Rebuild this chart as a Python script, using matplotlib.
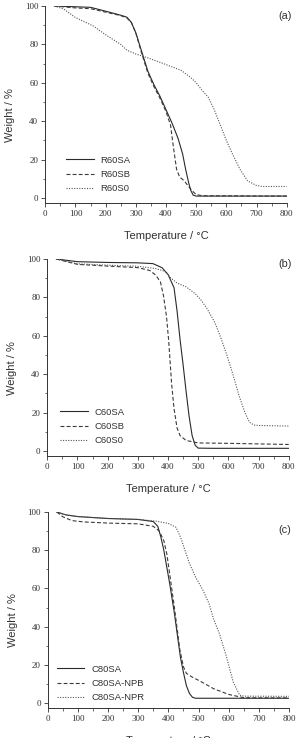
import matplotlib
matplotlib.use("Agg")
import matplotlib.pyplot as plt
from matplotlib.ticker import MultipleLocator

# ---- panel (a) ----
a_sa_t = [30, 100, 150, 200, 250, 270, 285, 300, 320, 340, 360, 380, 400, 420, 440, 455, 465, 475, 482, 490, 500, 550, 800]
a_sa_w = [100, 99.6, 99.3, 97.3, 95.2, 94.2, 91.5, 86, 76, 66, 59, 53, 46, 39, 31, 23, 15, 8, 4, 1.5, 1.0, 1.0, 1.0]
a_sb_t = [30, 100, 150, 200, 250, 270, 285, 300, 320, 340, 360, 380, 400, 415, 425, 435, 445, 460, 475, 485, 500, 520, 800]
a_sb_w = [100, 99.0, 98.6, 96.8, 95.0, 93.8, 91.5, 86, 75, 65, 58, 52, 45, 38, 26, 15, 11, 9, 6, 4, 1.8, 1.2, 1.0]
a_s0_t = [30, 60, 100, 160, 200, 250, 270, 300, 340, 400, 450, 480, 500, 520, 540, 560, 580, 600, 620, 645, 670, 700, 720, 800]
a_s0_w = [100, 98.5, 94, 89.5, 85, 80, 77, 75, 73, 69.5, 66.5, 63, 60, 56, 52.5, 46, 38, 30, 23, 15, 9, 6.5, 6, 6]

# ---- panel (b) ----
b_sa_t = [30, 100, 200, 300, 350, 380, 400, 420, 430, 440, 450, 460, 470, 480, 490, 500, 550, 800]
b_sa_w = [100, 98.6, 98.2, 98.0, 97.6, 95.5, 92, 85, 73, 58, 45, 31, 18, 8, 3, 1.5, 1.4, 1.4]
b_sb_t = [30, 100, 200, 300, 340, 360, 375, 385, 395, 402, 412, 420, 430, 440, 460, 500, 600, 800]
b_sb_w = [100, 97.2, 96.3, 95.5, 94, 91.5, 88, 81, 70, 58, 35, 22, 12, 8, 5.5, 4.2, 4.0, 3.4]
b_s0_t = [30, 100, 200, 300, 360, 390, 410, 430, 460, 490, 510, 530, 555, 575, 595, 615, 635, 655, 670, 685, 700, 800]
b_s0_w = [100, 97.5, 96.8, 96.2, 95, 93.5, 90, 87.5, 85.5, 82, 78.5, 74, 67, 59, 50, 40, 29, 20, 15, 13.5, 13.3, 13]

# ---- panel (c) ----
c_sa_t = [30, 60, 100, 200, 300, 350, 365, 375, 385, 395, 405, 420, 440, 450, 460, 470, 480, 490, 800]
c_sa_w = [100, 98.5, 97.6, 96.6, 96.1, 95, 92.5, 87, 80, 71, 62, 47, 24, 16, 9, 5, 3, 2.5, 2.5]
c_npb_t = [30, 50, 80, 120, 200, 300, 350, 370, 385, 395, 405, 420, 438, 450, 460, 480, 505, 550, 600, 650, 700, 800]
c_npb_w = [100, 97.5, 95.5, 94.8, 94.2, 93.8, 92.5, 90, 85, 78, 67, 50, 28, 19, 15.5, 13.5, 11.5, 7.5, 4.5, 2.8, 2.7, 2.7]
c_npr_t = [30, 60, 100, 200, 300, 360, 400, 425, 440, 455, 470, 490, 515, 535, 550, 570, 593, 615, 637, 655, 800]
c_npr_w = [100, 98.5, 97.6, 96.6, 96.1, 95.2, 94, 92, 87, 80, 73, 66, 59, 52, 44, 36, 24, 11, 4, 3.6, 3.5]

panels = [
    ("(a)", [(a_sa_t, a_sa_w, "R60SA"), (a_sb_t, a_sb_w, "R60SB"), (a_s0_t, a_s0_w, "R60S0")]),
    ("(b)", [(b_sa_t, b_sa_w, "C60SA"), (b_sb_t, b_sb_w, "C60SB"), (b_s0_t, b_s0_w, "C60S0")]),
    ("(c)", [(c_sa_t, c_sa_w, "C80SA"), (c_npb_t, c_npb_w, "C80SA-NPB"), (c_npr_t, c_npr_w, "C80SA-NPR")]),
]

# figure pixel geometry (x0, x1, y_top, y_bottom), legend anchor, panel label y
W, H = 299, 738
boxes = [(45.3, 286.7, 6, 203), (47.3, 288.7, 259, 456), (47.7, 289.0, 512, 708)]
leg_anchor = [(0.087, 0.05), (0.054, 0.055), (0.039, 0.03)]
tag_y = [16, 264, 530]

styles = [
    dict(color="#2a2a2a", lw=0.8, ls="-"),
    dict(color="#3a3a3a", lw=0.8, ls=(0, (3.5, 2))),
    dict(color="#555555", lw=0.8, ls=(0, (1, 1.3))),
]

serif = "Liberation Serif"
sans = "Liberation Sans"
txt = "#333333"

fig = plt.figure(figsize=(W / 100, H / 100), dpi=100)

for (tag, series), (x0, x1, yt, yb), anc, ty in zip(panels, boxes, leg_anchor, tag_y):
    ax = fig.add_axes([x0 / W, 1 - yb / H, (x1 - x0) / W, (yb - yt) / H])
    for (t, w, name), st in zip(series, styles):
        ax.plot(t, w, label=name, **st)
    ax.set_xlim(0, 800)
    ax.set_ylim(-2.6, 100)
    ax.spines["top"].set_visible(False)
    ax.spines["right"].set_visible(False)
    for s in ("left", "bottom"):
        ax.spines[s].set_linewidth(0.7)
        ax.spines[s].set_color(txt)
    ax.xaxis.set_major_locator(MultipleLocator(100))
    ax.xaxis.set_minor_locator(MultipleLocator(50))
    ax.yaxis.set_major_locator(MultipleLocator(20))
    ax.yaxis.set_minor_locator(MultipleLocator(10))
    ax.tick_params(which="major", direction="out", length=3, width=0.6, color=txt,
                   labelsize=6.5, labelcolor=txt, pad=2)
    ax.tick_params(which="minor", direction="out", length=1.8, width=0.5, color=txt)
    for lab in ax.get_xticklabels() + ax.get_yticklabels():
        lab.set_fontfamily(serif)
    ax.set_xlabel("Temperature / °C", fontsize=8, family=sans, color=txt)
    ax.set_ylabel("Weight / %", fontsize=8, family=sans, color=txt)
    ax.xaxis.set_label_coords(0.5, -0.142)
    ax.yaxis.set_label_coords(-0.125, 0.447)
    ax.legend(loc="lower left", bbox_to_anchor=anc, frameon=False,
              prop={"family": sans, "size": 6.8}, borderpad=0, borderaxespad=0,
              handlelength=2.9, handletextpad=0.7, labelspacing=0.55, labelcolor=txt)
    fig.text(285 / W, 1 - ty / H, tag, ha="center", va="center",
             fontsize=7.8, family=sans, color=txt)

fig.savefig("out.png", dpi=100)
